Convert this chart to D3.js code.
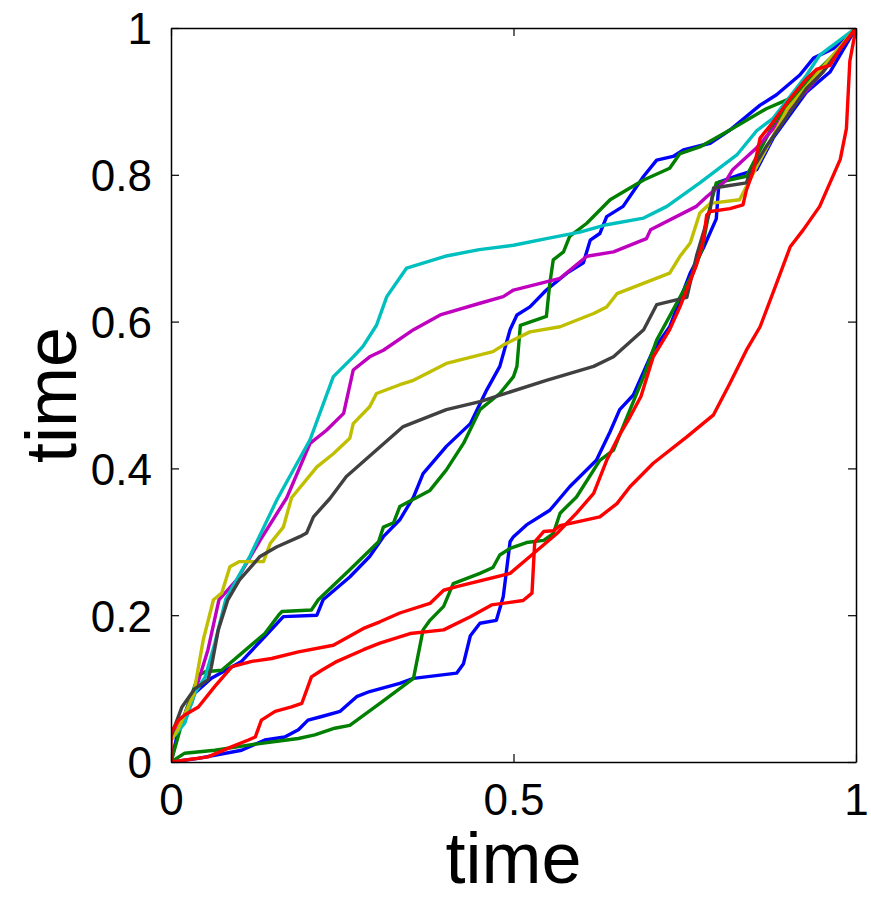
<!DOCTYPE html>
<html>
<head>
<meta charset="utf-8">
<script src="https://cdn.jsdelivr.net/npm/d3@7"></script>
<style>
  body { margin: 0; background: #fff; }
  svg text { font-family: "Liberation Sans", Arial, Helvetica, sans-serif; fill: #000; }
</style>
</head>
<body>
<div id="chart"></div>
<script>
const width = 871;
const height = 900;
const margin = { top: 28, right: 15, bottom: 138, left: 171 };
const w = width - margin.left - margin.right;
const h = height - margin.top - margin.bottom;

// each series: [x, y] pairs
const blueMid = [[0,0],[0.01,0.04],[0.03,0.09],[0.059,0.114],[0.076,0.123],[0.103,0.137],[0.137,0.171],[0.164,0.198],[0.213,0.2],[0.222,0.221],[0.261,0.252],[0.29,0.28],[0.31,0.307],[0.334,0.33],[0.354,0.361],[0.368,0.393],[0.402,0.43],[0.437,0.461],[0.461,0.507],[0.48,0.539],[0.495,0.589],[0.505,0.609],[0.524,0.62],[0.548,0.643],[0.578,0.666],[0.602,0.68],[0.612,0.711],[0.626,0.72],[0.636,0.743],[0.66,0.757],[0.69,0.798],[0.709,0.82],[0.733,0.825],[0.748,0.834],[0.787,0.843],[0.816,0.861],[0.86,0.895],[0.884,0.909],[0.918,0.936],[0.938,0.959],[0.967,0.972],[1,1]];
const greenMid = [[0,0],[0.015,0.05],[0.04,0.118],[0.05,0.123],[0.074,0.125],[0.103,0.148],[0.137,0.175],[0.157,0.2],[0.162,0.205],[0.205,0.207],[0.215,0.221],[0.261,0.262],[0.303,0.3],[0.31,0.32],[0.325,0.326],[0.334,0.348],[0.378,0.37],[0.402,0.398],[0.427,0.434],[0.451,0.48],[0.48,0.502],[0.5,0.525],[0.505,0.539],[0.51,0.595],[0.548,0.607],[0.553,0.652],[0.558,0.684],[0.573,0.695],[0.582,0.716],[0.607,0.734],[0.641,0.766],[0.67,0.782],[0.69,0.793],[0.728,0.809],[0.743,0.829],[0.772,0.838],[0.816,0.861],[0.869,0.89],[0.899,0.902],[0.938,0.927],[0.972,0.964],[1,1]];
const blueLow = [[0,0],[0.04,0.005],[0.103,0.016],[0.137,0.03],[0.166,0.034],[0.186,0.044],[0.2,0.057],[0.22,0.062],[0.247,0.069],[0.271,0.089],[0.29,0.096],[0.334,0.107],[0.354,0.114],[0.417,0.121],[0.427,0.134],[0.437,0.172],[0.451,0.189],[0.475,0.193],[0.485,0.225],[0.495,0.3],[0.5,0.307],[0.519,0.323],[0.553,0.343],[0.582,0.375],[0.621,0.411],[0.641,0.45],[0.655,0.48],[0.675,0.5],[0.704,0.561],[0.728,0.593],[0.758,0.666],[0.777,0.7],[0.796,0.74],[0.8,0.79],[0.83,0.8],[0.855,0.807],[0.879,0.85],[0.928,0.913],[0.962,0.94],[1,1]];
const greenLow = [[0,0],[0.02,0.012],[0.064,0.016],[0.113,0.023],[0.152,0.028],[0.186,0.032],[0.21,0.037],[0.239,0.046],[0.261,0.05],[0.305,0.08],[0.354,0.114],[0.368,0.18],[0.378,0.193],[0.398,0.212],[0.412,0.243],[0.451,0.257],[0.47,0.265],[0.48,0.282],[0.495,0.291],[0.519,0.299],[0.544,0.302],[0.558,0.311],[0.568,0.339],[0.592,0.361],[0.626,0.411],[0.646,0.425],[0.664,0.466],[0.69,0.525],[0.709,0.575],[0.733,0.616],[0.762,0.666],[0.775,0.698],[0.787,0.757],[0.796,0.789],[0.84,0.798],[0.855,0.825],[0.879,0.868],[0.928,0.927],[0.967,0.963],[1,1]];
const magentaLine = [[0,0.03],[0.03,0.08],[0.054,0.153],[0.07,0.221],[0.096,0.248],[0.13,0.302],[0.169,0.36],[0.203,0.434],[0.227,0.452],[0.252,0.475],[0.266,0.534],[0.29,0.552],[0.31,0.561],[0.354,0.589],[0.393,0.609],[0.451,0.625],[0.485,0.634],[0.5,0.643],[0.568,0.659],[0.607,0.689],[0.646,0.695],[0.694,0.713],[0.7,0.725],[0.767,0.757],[0.782,0.77],[0.811,0.793],[0.82,0.807],[0.855,0.837],[0.943,0.931],[1,1]];
const cyanLine = [[0,0.03],[0.02,0.053],[0.035,0.094],[0.05,0.116],[0.064,0.162],[0.08,0.222],[0.115,0.28],[0.155,0.358],[0.203,0.439],[0.237,0.525],[0.266,0.552],[0.28,0.566],[0.3,0.595],[0.315,0.634],[0.344,0.673],[0.4,0.689],[0.45,0.698],[0.5,0.704],[0.548,0.713],[0.597,0.722],[0.636,0.732],[0.69,0.741],[0.724,0.757],[0.772,0.789],[0.826,0.827],[0.855,0.86],[0.879,0.877],[0.928,0.936],[0.947,0.963],[1,1]];
const yellowLine = [[0,0.03],[0.01,0.044],[0.033,0.092],[0.047,0.166],[0.062,0.221],[0.074,0.23],[0.086,0.266],[0.1,0.273],[0.135,0.273],[0.145,0.298],[0.164,0.32],[0.176,0.36],[0.213,0.402],[0.237,0.42],[0.261,0.441],[0.266,0.461],[0.29,0.484],[0.3,0.502],[0.334,0.514],[0.354,0.52],[0.402,0.543],[0.47,0.559],[0.485,0.568],[0.524,0.586],[0.568,0.593],[0.617,0.611],[0.636,0.62],[0.651,0.638],[0.728,0.666],[0.743,0.689],[0.758,0.707],[0.772,0.748],[0.787,0.761],[0.83,0.766],[0.84,0.784],[0.86,0.82],[0.9,0.89],[1,1]];
const grayLine = [[0,0.035],[0.016,0.075],[0.035,0.1],[0.054,0.112],[0.059,0.13],[0.069,0.18],[0.083,0.221],[0.1,0.248],[0.13,0.28],[0.154,0.293],[0.188,0.307],[0.198,0.312],[0.208,0.334],[0.232,0.359],[0.256,0.389],[0.3,0.425],[0.339,0.457],[0.402,0.48],[0.451,0.491],[0.548,0.52],[0.617,0.539],[0.646,0.552],[0.69,0.589],[0.709,0.623],[0.753,0.633],[0.767,0.689],[0.787,0.752],[0.792,0.782],[0.806,0.784],[0.84,0.789],[0.845,0.802],[0.87,0.84],[0.928,0.918],[0.952,0.94],[1,1]];
const redLow = [[0,0],[0.054,0.007],[0.089,0.021],[0.113,0.03],[0.123,0.034],[0.132,0.057],[0.152,0.069],[0.176,0.075],[0.191,0.08],[0.2,0.103],[0.205,0.116],[0.22,0.125],[0.24,0.136],[0.281,0.153],[0.305,0.162],[0.349,0.175],[0.398,0.18],[0.437,0.198],[0.468,0.214],[0.514,0.22],[0.527,0.23],[0.531,0.3],[0.544,0.314],[0.558,0.315],[0.568,0.322],[0.626,0.334],[0.651,0.352],[0.67,0.375],[0.704,0.407],[0.753,0.443],[0.792,0.473],[0.816,0.516],[0.84,0.561],[0.86,0.593],[0.884,0.652],[0.904,0.702],[0.923,0.725],[0.947,0.757],[0.977,0.821],[0.986,0.863],[0.991,0.955],[1,1]];
const redFlat = [[0,0],[0,0.04],[0.011,0.057],[0.02,0.064],[0.04,0.075],[0.064,0.103],[0.089,0.13],[0.118,0.137],[0.147,0.141],[0.186,0.15],[0.237,0.159],[0.281,0.182],[0.305,0.191],[0.334,0.203],[0.378,0.216],[0.398,0.234],[0.417,0.239],[0.495,0.257],[0.524,0.28],[0.563,0.311],[0.592,0.339],[0.617,0.366],[0.636,0.411],[0.655,0.446],[0.67,0.47],[0.686,0.498],[0.704,0.552],[0.728,0.589],[0.743,0.62],[0.767,0.677],[0.777,0.71],[0.782,0.745],[0.787,0.75],[0.816,0.754],[0.835,0.759],[0.84,0.779],[0.85,0.805],[0.86,0.85],[0.879,0.872],[0.904,0.904],[0.928,0.931],[0.943,0.944],[0.962,0.949],[0.977,0.972],[1,1]];

const seriesList = [blueMid, greenMid, blueLow, greenLow, magentaLine, cyanLine, yellowLine, grayLine, redLow, redFlat];
const seriesColors = ['#0000ff', '#007f00', '#0000ff', '#007f00', '#bf00bf', '#00bfbf', '#bfbf00', '#404040', '#ff0000', '#ff0000'];

const xTicks = [0, 0.5, 1];
const xTickLabels = ['0', '0.5', '1'];
const yTicks = [0, 0.2, 0.4, 0.6, 0.8, 1];
const yTickLabels = ['0', '0.2', '0.4', '0.6', '0.8', '1'];

const xScale = d3.scaleLinear().domain([0, 1]).range([0, w]);
const yScale = d3.scaleLinear().domain([0, 1]).range([h, 0]);

const svg = d3.select('#chart')
  .append('svg')
  .attr('width', width)
  .attr('height', height)
  .append('g')
  .attr('transform', 'translate(' + margin.left + ',' + margin.top + ')');

svg.append('defs').append('clipPath').attr('id', 'clip')
  .append('rect').attr('width', w).attr('height', h);

const line = d3.line()
  .x(function(d) { return xScale(d[0]); })
  .y(function(d) { return yScale(d[1]); });

svg.append('g').attr('clip-path', 'url(#clip)')
  .selectAll('path')
  .data(seriesList)
  .enter().append('path')
  .attr('d', line)
  .style('fill', 'none')
  .style('stroke', function(d, i) { return seriesColors[i]; })
  .style('stroke-width', '3.4px')
  .style('stroke-linejoin', 'round');

// axes: ticks point inward, box all round
const tickLen = 8;
const fmtX = function(d, i) { return xTickLabels[i]; };
const fmtY = function(d, i) { return yTickLabels[i]; };

const xAxis = svg.append('g')
  .attr('transform', 'translate(0,' + h + ')')
  .call(d3.axisBottom(xScale).tickValues(xTicks).tickFormat(fmtX).tickSizeInner(-tickLen).tickSizeOuter(0).tickPadding(tickLen + 14));
const yAxis = svg.append('g')
  .call(d3.axisLeft(yScale).tickValues(yTicks).tickFormat(fmtY).tickSizeInner(-tickLen).tickSizeOuter(0).tickPadding(tickLen + 11));
svg.append('g')
  .call(d3.axisTop(xScale).tickValues(xTicks).tickFormat('').tickSizeInner(-tickLen).tickSizeOuter(0));
svg.append('g')
  .attr('transform', 'translate(' + w + ',0)')
  .call(d3.axisRight(yScale).tickValues(yTicks).tickFormat('').tickSizeInner(-tickLen).tickSizeOuter(0));

svg.selectAll('.domain').attr('stroke', '#000').attr('stroke-width', 1.5);
svg.selectAll('.tick line').attr('stroke', '#000').attr('stroke-width', 1.2);
xAxis.selectAll('text').style('font-size', '44px').attr('dy', '0.71em');
yAxis.selectAll('text').style('font-size', '44px').attr('dy', '0.36em');

svg.append('text')
  .attr('x', w / 2)
  .attr('y', h + 121)
  .attr('text-anchor', 'middle')
  .style('font-size', '72px')
  .text('time');

svg.append('text')
  .attr('transform', 'translate(' + (-95) + ',' + (h / 2) + ') rotate(-90)')
  .attr('text-anchor', 'middle')
  .style('font-size', '72px')
  .text('time');
</script>
</body>
</html>
